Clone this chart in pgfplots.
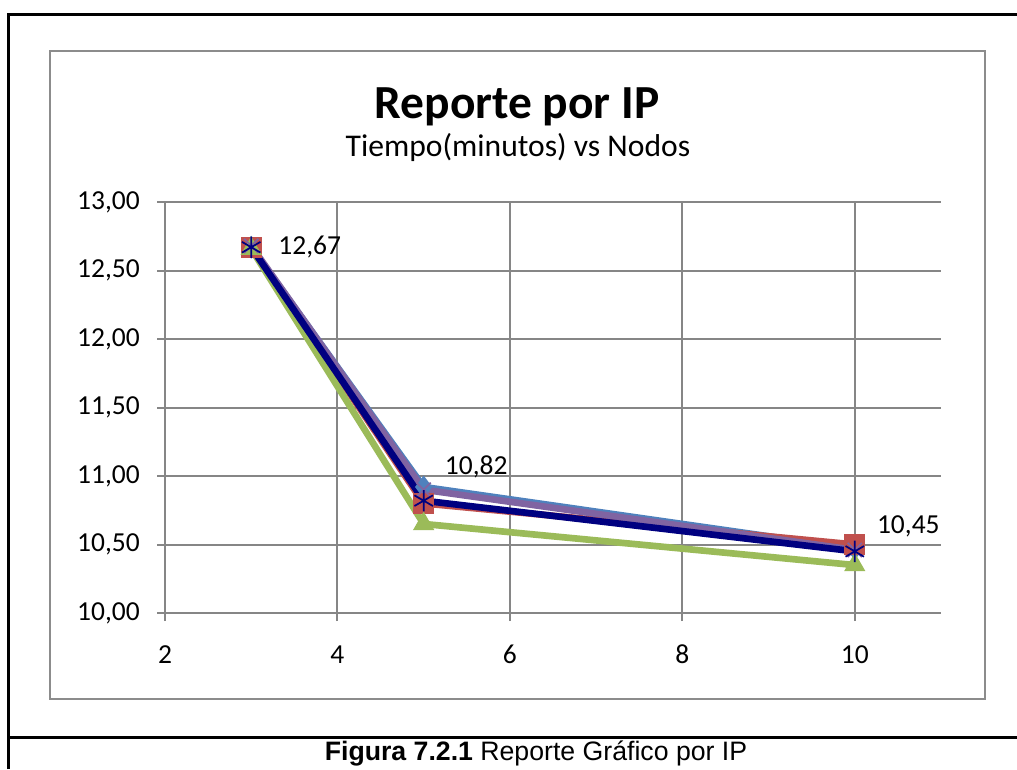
\documentclass[border=0pt]{standalone}
\usepackage{fontspec}
\setmainfont{Carlito}
\newfontfamily\arialfont{Liberation Sans}
\usepackage{pgfplots}
\pgfplotsset{compat=1.18}
\definecolor{sblue}{HTML}{4F81BD}
\definecolor{sred}{HTML}{C0504D}
\definecolor{sgreen}{HTML}{9BBB59}
\definecolor{spurple}{HTML}{8064A2}
\definecolor{snavy}{HTML}{000080}
\definecolor{gridgray}{HTML}{868686}
\definecolor{framegray}{HTML}{8C8C8C}
\begin{document}
\begin{tikzpicture}
\begin{scope}[x=0.75pt,y=-0.75pt]
\path[use as bounding box] (0,0) rectangle (1017,769);
\draw[line width=2.25pt] (8,769) -- (8,14) -- (1017,14);
\draw[line width=2.25pt] (8,737) -- (1017,737);
\draw[color=framegray, line width=1.5pt] (50,51) rectangle (985,699);
\node[anchor=base, inner sep=0pt, font=\fontsize{35.6}{42}\selectfont\bfseries] at (517,118) {Reporte por IP};
\node[anchor=base, inner sep=0pt, font=\fontsize{23.7}{28}\selectfont] at (518,156) {Tiempo(minutos) vs Nodos};
\node[anchor=base, inner sep=0pt, font=\arialfont\fontsize{20}{24}\selectfont] at (536,760) {\textbf{Figura 7.2.1} Reporte Gráfico por IP};
\end{scope}
\begin{axis}[
  at={(123.75pt,-459.75pt)}, anchor=south west,
  scale only axis, width=582pt, height=308.25pt,
  xmin=2, xmax=11, ymin=10, ymax=13,
  xtick={2,4,6,8,10},
  ytick={10,10.5,11,11.5,12,12.5,13},
  axis lines*=left,
  axis line style={color=gridgray, line width=1.5pt},
  grid=major,
  grid style={color=gridgray, line width=1.5pt},
  tick align=outside,
  major tick length=6pt,
  tick style={color=gridgray, line width=1.5pt},
  clip=false,
  /pgf/number format/assume math mode=true,
  tick label style={font=\fontsize{20.6}{24}\selectfont, inner sep=0pt},
  yticklabel style={anchor=east, xshift=-12.75pt,
    /pgf/number format/fixed, /pgf/number format/fixed zerofill,
    /pgf/number format/precision=2, /pgf/number format/use comma},
  xticklabel style={anchor=north, text height=0.64em, text depth=0pt, yshift=-25.5pt},
]
\addplot[color=sblue, line width=5pt, mark=diamond*, mark size=8pt, mark options={solid, line width=0.75pt}]
  coordinates {(3,12.67) (5,10.92) (10,10.47)};
\addplot[color=sred, line width=5pt, mark=square*, mark size=7.5pt, mark options={solid, line width=0.75pt}]
  coordinates {(3,12.67) (5,10.80) (10,10.50)};
\addplot[color=sgreen, line width=5pt, mark=triangle*, mark size=8.5pt, mark options={solid, line width=0.75pt}]
  coordinates {(3,12.66) (5,10.65) (10,10.35)};
\addplot[color=spurple, line width=5pt, mark=x, mark size=7.5pt, mark options={solid, line width=1.3pt}]
  coordinates {(3,12.68) (5,10.90) (10,10.46)};
\addplot[color=snavy, line width=5pt, mark=asterisk, mark size=8pt, mark options={solid, line width=1.3pt}]
  coordinates {(3,12.67) (5,10.82) (10,10.45)};
\node[anchor=west, inner sep=0pt, font=\fontsize{20.6}{24}\selectfont, xshift=20.25pt] at (axis cs:3,12.67) {12,67};
\node[anchor=west, inner sep=0pt, font=\fontsize{20.6}{24}\selectfont, xshift=15.75pt, yshift=25pt] at (axis cs:5,10.82) {10,82};
\node[anchor=west, inner sep=0pt, font=\fontsize{20.6}{24}\selectfont, xshift=16.5pt, yshift=19pt] at (axis cs:10,10.45) {10,45};
\end{axis}
\end{tikzpicture}
\end{document}
